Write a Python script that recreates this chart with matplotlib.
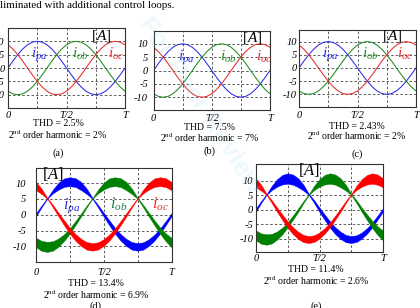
import numpy as np
import matplotlib
matplotlib.use("Agg")
import matplotlib.pyplot as plt

plt.rcParams["font.family"] = ["Liberation Serif", "DejaVu Serif"]
plt.rcParams["mathtext.fontset"] = "custom"
plt.rcParams["mathtext.rm"] = "Liberation Serif"
plt.rcParams["mathtext.it"] = "Liberation Serif:italic"

## Data
# sample instants, as a fraction of one period T (every T/24)
t = np.arange(25) / 24

# (a)-(c): clean phase currents [A]
ia_clean = [0, 2.6, 5.0, 7.1, 8.7, 9.7, 10, 9.7, 8.7, 7.1, 5.0, 2.6, 0,
            -2.6, -5.0, -7.1, -8.7, -9.7, -10, -9.7, -8.7, -7.1, -5.0, -2.6, 0]
ib_clean = [-8.7, -9.7, -10, -9.7, -8.7, -7.1, -5.0, -2.6, 0, 2.6, 5.0, 7.1, 8.7,
            9.7, 10, 9.7, 8.7, 7.1, 5.0, 2.6, 0, -2.6, -5.0, -7.1, -8.7]
ic_clean = [8.7, 7.1, 5.0, 2.6, 0, -2.6, -5.0, -7.1, -8.7, -9.7, -10, -9.7, -8.7,
            -7.1, -5.0, -2.6, 0, 2.6, 5.0, 7.1, 8.7, 9.7, 10, 9.7, 8.7]

# (d): rippled currents, band centre and band width [A]
ia_d = [0, 2.7, 5.2, 7.4, 9.1, 10.2, 10.5, 10.2, 9.1, 7.4, 5.2, 2.7, 0,
        -2.6, -5.1, -7.2, -8.8, -9.9, -10.2, -9.9, -8.8, -7.2, -5.1, -2.6, 0]
ib_d = [-8.8, -9.9, -10.2, -9.9, -8.8, -7.2, -5.1, -2.6, 0, 2.7, 5.2, 7.4, 9.1,
        10.2, 10.5, 10.2, 9.1, 7.4, 5.2, 2.7, 0, -2.6, -5.1, -7.2, -8.8]
ic_d = [9.1, 7.4, 5.2, 2.7, 0, -2.6, -5.1, -7.2, -8.8, -9.9, -10.2, -9.9, -8.8,
        -7.2, -5.1, -2.6, 0, 2.7, 5.2, 7.4, 9.1, 10.2, 10.5, 10.2, 9.1]
wa_d = [1.0, 0.6, 0.2, 1.2, 2.2, 2.7, 2.8, 2.8, 2.6, 1.7, 0.3, 0.8, 1.2,
        1.6, 1.9, 2.1, 2.3, 2.4, 2.4, 2.3, 2.1, 1.9, 1.6, 1.3, 1.0]
wb_d = [3.0, 3.2, 3.2, 3.0, 2.6, 2.1, 1.7, 1.3, 1.0, 0.6, 0.2, 1.2, 2.2,
        2.7, 2.8, 2.8, 2.6, 1.7, 0.3, 0.8, 1.2, 1.6, 2.0, 2.5, 3.0]
wc_d = [2.6, 1.7, 0.3, 0.8, 1.2, 1.6, 1.9, 2.1, 2.3, 2.4, 2.4, 2.3, 2.1,
        1.9, 1.6, 1.3, 1.0, 0.6, 0.2, 1.2, 2.2, 2.7, 2.8, 2.8, 2.6]

# (e): rippled currents, band centre and band width [A]
ia_e = [0, 2.8, 5.3, 7.6, 9.3, 10.4, 10.8, 10.4, 9.3, 7.6, 5.3, 2.8, 0,
        -2.6, -5.1, -7.2, -8.8, -9.9, -10.2, -9.9, -8.8, -7.2, -5.1, -2.6, 0]
ib_e = [-8.8, -9.9, -10.2, -9.9, -8.8, -7.2, -5.1, -2.6, 0, 2.8, 5.3, 7.6, 9.3,
        10.4, 10.8, 10.4, 9.3, 7.6, 5.3, 2.8, 0, -2.6, -5.1, -7.2, -8.8]
ic_e = [9.3, 7.6, 5.3, 2.8, 0, -2.6, -5.1, -7.2, -8.8, -9.9, -10.2, -9.9, -8.8,
        -7.2, -5.1, -2.6, 0, 2.8, 5.3, 7.6, 9.3, 10.4, 10.8, 10.4, 9.3]
wa_e = [1.2, 0.7, 0.3, 1.5, 2.6, 3.3, 3.6, 3.5, 3.1, 2.0, 0.4, 1.0, 1.5,
        1.9, 2.2, 2.4, 2.5, 2.5, 2.4, 2.3, 2.1, 1.9, 1.7, 1.4, 1.2]
wb_e = [3.4, 3.6, 3.6, 3.3, 2.8, 2.3, 1.8, 1.4, 1.2, 0.7, 0.3, 1.5, 2.6,
        3.3, 3.6, 3.5, 3.1, 2.0, 0.4, 1.0, 1.5, 2.0, 2.5, 3.0, 3.4]
wc_e = [3.1, 2.0, 0.4, 1.0, 1.5, 1.9, 2.2, 2.4, 2.5, 2.5, 2.4, 2.3, 2.1,
        1.9, 1.7, 1.4, 1.2, 0.7, 0.3, 1.5, 2.6, 3.3, 3.6, 3.5, 3.1]

x_ticks = [0, 0.5, 1]
x_labels = ["0", "T/2", "T"]
y_ticks = [-10, -5, 0, 5, 10]
y_labels = ["-10", "-5", "0", "5", "10"]
x_grid = [0.25, 0.5, 0.75]

captions = {
    "a": ("THD = 2.5%", "2$^{\\rm nd}$ order harmonic = 2%"),
    "b": ("THD = 7.5%", "2$^{\\rm nd}$ order harmonic = 7%"),
    "c": ("THD = 2.43%", "2$^{\\rm nd}$ order harmonic = 2%"),
    "d": ("THD = 13.4%", "2$^{\\rm nd}$ order harmonic = 6.9%"),
    "e": ("THD = 11.4%", "2$^{\\rm nd}$ order harmonic = 2.6%"),
}

BLUE, GREEN, RED = "#2b2be6", "#1f8c1f", "#e62b2b"

## Figure (positions in pixels of the 420x308 image)
W, H = 420, 308
fig = plt.figure(figsize=(4.2, 3.08), dpi=100)

# faint watermark of the review copy
fig.text(200 / W, 1 - 105 / H, "For Peer Review", rotation=-57, color="#8fd6f5",
         alpha=0.16, fontsize=19, weight="bold", family="Liberation Sans",
         ha="center", va="center", zorder=0)

fig.text(0.5 / W, 1 - 5 / H, "liminated with additional control loops.",
         fontsize=7.9, ha="left", va="center")


def panel(l, r, top, bot, ylim, ypad, xpad):
    ax = fig.add_axes([l / W, 1 - bot / H, (r - l) / W, (bot - top) / H])
    ax.set_facecolor("none")
    ax.set_xlim(0, 1)
    ax.set_ylim(*ylim)
    for v in x_grid:
        ax.axvline(v, color="#444444", lw=0.6, ls=(0, (3, 2.5)), zorder=1)
    for v in y_ticks:
        ax.axhline(v, color="#444444", lw=0.6, ls=(0, (3, 2.5)), zorder=1)
    ax.set_xticks(x_ticks, x_labels, style="italic", fontsize=7.5)
    ax.set_yticks(y_ticks, y_labels, style="italic", fontsize=7.5)
    ax.tick_params(axis="y", length=0, pad=ypad)
    ax.tick_params(axis="x", length=0, pad=xpad)
    for s in ax.spines.values():
        s.set_linewidth(0.8)
        s.set_color("#333333")
    return ax


def caption(key, x, y1, y2, y3):
    thd, harm = captions[key]
    fig.text(x / W, 1 - y1 / H, thd, fontsize=7, ha="center", va="center")
    fig.text(x / W, 1 - y2 / H, harm, fontsize=7, ha="center", va="center")
    fig.text(x / W, 1 - y3 / H, "(" + key + ")", fontsize=7.5, ha="center", va="center")


def clean_curves(ax, lab_x, lab_y, unit_xy):
    for y, c in zip([ia_clean, ib_clean, ic_clean], [BLUE, GREEN, RED]):
        ax.plot(t, y, color=c, lw=0.75, zorder=2)
    for name, x, c in zip(["$i_{pa}$", "$i_{ob}$", "$i_{oc}$"], lab_x, [BLUE, GREEN, RED]):
        ax.text(x, lab_y, name, color=c, fontsize=11, ha="center", va="baseline", zorder=3)
    ax.text(unit_xy[0], unit_xy[1], "$[A]$", fontsize=11, ha="center", va="center", zorder=3)


def band_curves(ax, centres, widths):
    for y, w, c in zip(centres, widths, ["#0000ff", "#008000", "#ff0000"]):
        y = np.array(y)
        w = np.array(w)
        ax.fill_between(t, y - w / 2, y + w / 2, color=c, lw=0.3, zorder=2)


# (a)
ax = panel(8, 125, 28, 108, (-15, 15), 2.5, 2)
clean_curves(ax, [0.27, 0.62, 0.92], 3.9, (0.80, 11.9))
caption("a", 58, 124, 135, 153)

# (b)
ax = panel(153.5, 270, 31, 110, (-14.8, 14.8), 4, 3)
clean_curves(ax, [0.28, 0.64, 0.95], 3.6, (0.85, 12.3))
caption("b", 210, 127, 138, 151)

# (c)
ax = panel(299, 416, 30, 107, (-14.8, 14.4), 1.5, 3)
clean_curves(ax, [0.27, 0.61, 0.91], 3.8, (0.80, 12.3))
caption("c", 357, 126, 136, 154)

# (d)
ax = panel(36, 171.5, 167.5, 262, (-15, 15), 7, 4)
band_curves(ax, [ia_d, ib_d, ic_d], [wa_d, wb_d, wc_d])
for name, x, c in zip(["$i_{pa}$", "$i_{ob}$", "$i_{oc}$"], [0.26, 0.61, 0.915],
                      ["#2b2be6", "#1f7a4a", RED]):
    ax.text(x, 2.0, name, color=c, fontsize=11.5, ha="center", va="baseline", zorder=3)
ax.text(0.127, 12.9, "$[A]$", fontsize=12, ha="center", va="center", zorder=3)
caption("d", 96, 283, 294.5, 306)

# (e)
ax = panel(256, 383, 164, 251.7, (-14.4, 15.8), 2, 1.5)
band_curves(ax, [ia_e, ib_e, ic_e], [wa_e, wb_e, wc_e])
ax.text(0.42, 13.6, "$[A]$", fontsize=12, ha="center", va="center", zorder=3)
caption("e", 316, 269.5, 281, 306)

fig.savefig("out.png", dpi=100)
